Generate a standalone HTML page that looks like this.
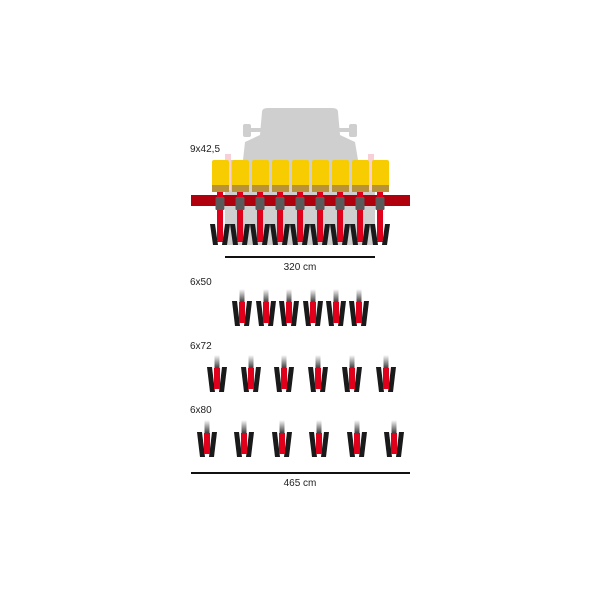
<!DOCTYPE html>
<html><head><style>body{margin:0;background:#fff}svg{display:block}</style></head><body>
<svg width="600" height="600" viewBox="0 0 600 600" xmlns="http://www.w3.org/2000/svg" font-family="Liberation Sans, sans-serif">
<defs>
<linearGradient id="g" x1="0" y1="0" x2="0" y2="1"><stop offset="0" stop-color="#fff"/><stop offset="1" stop-color="#222"/></linearGradient>
<g id="u">
<rect x="-2.5" y="0" width="5" height="15" fill="url(#g)"/>
<polygon points="-10,12 -5,12 -2,37 -7,37" fill="#1a1a1a"/>
<polygon points="10,12 5,12 2,37 7,37" fill="#1a1a1a"/>
<rect x="-3" y="13" width="6" height="21" fill="#e0001b"/>
</g>
<g id="h">
<rect x="0" y="0" width="17" height="32" rx="2" fill="#f7cc00"/>
<rect x="0" y="25" width="17" height="7" fill="#b8923a"/>
</g>
<g id="w">
<rect x="-3" y="-4" width="6" height="48" fill="#e0001b"/>
<rect x="-4.5" y="1" width="9" height="13" rx="1" fill="#5a5a5a"/>
<polygon points="-10,28 -5,28 -2,49 -7,49" fill="#1a1a1a"/>
<polygon points="10,28 5,28 2,49 7,49" fill="#1a1a1a"/>
<rect x="-2.5" y="14" width="5" height="32" fill="#e0001b"/>
</g>
</defs>
<!-- tractor -->
<g fill="#cfcfcf">
<path d="M262,112 Q262,108 268,108 L332,108 Q338,108 338,112 L340,135 L355,142 L358,160 L375,160 L375,245 L225,245 L225,160 L243,160 L245,142 L260,135 Z"/>
<rect x="243" y="124" width="8" height="13" rx="2"/>
<rect x="349" y="124" width="8" height="13" rx="2"/>
<rect x="251" y="128" width="10" height="4"/>
<rect x="339" y="128" width="10" height="4"/>
</g>
<rect x="225" y="154" width="6" height="36" fill="#f6d0d6"/>
<rect x="368" y="154" width="6" height="36" fill="#f6d0d6"/>
<use href="#h" x="212" y="160"/><use href="#h" x="232" y="160"/><use href="#h" x="252" y="160"/>
<use href="#h" x="272" y="160"/><use href="#h" x="292" y="160"/><use href="#h" x="312" y="160"/>
<use href="#h" x="332" y="160"/><use href="#h" x="352" y="160"/><use href="#h" x="372" y="160"/>
<rect x="191" y="195" width="219" height="11" fill="#b0000e"/>
<use href="#w" x="220" y="196"/><use href="#w" x="240" y="196"/><use href="#w" x="260" y="196"/>
<use href="#w" x="280" y="196"/><use href="#w" x="300" y="196"/><use href="#w" x="320" y="196"/>
<use href="#w" x="340" y="196"/><use href="#w" x="360" y="196"/><use href="#w" x="380" y="196"/>
<text x="190" y="152" font-size="10" fill="#222">9x42,5</text>
<rect x="225" y="256" width="150" height="2" fill="#111"/>
<text x="300" y="270" font-size="10" fill="#222" text-anchor="middle">320 cm</text>

<text x="190" y="285" font-size="10" fill="#222">6x50</text>
<use href="#u" x="242" y="289"/><use href="#u" x="266" y="289"/><use href="#u" x="289" y="289"/>
<use href="#u" x="313" y="289"/><use href="#u" x="336" y="289"/><use href="#u" x="359" y="289"/>

<text x="190" y="349" font-size="10" fill="#222">6x72</text>
<use href="#u" x="217" y="355"/><use href="#u" x="251" y="355"/><use href="#u" x="284" y="355"/>
<use href="#u" x="318" y="355"/><use href="#u" x="352" y="355"/><use href="#u" x="386" y="355"/>

<text x="190" y="413" font-size="10" fill="#222">6x80</text>
<use href="#u" x="207" y="420"/><use href="#u" x="244" y="420"/><use href="#u" x="282" y="420"/>
<use href="#u" x="319" y="420"/><use href="#u" x="357" y="420"/><use href="#u" x="394" y="420"/>

<rect x="191" y="472" width="219" height="2" fill="#111"/>
<text x="300" y="486" font-size="10" fill="#222" text-anchor="middle">465 cm</text>
</svg>
</body></html>
